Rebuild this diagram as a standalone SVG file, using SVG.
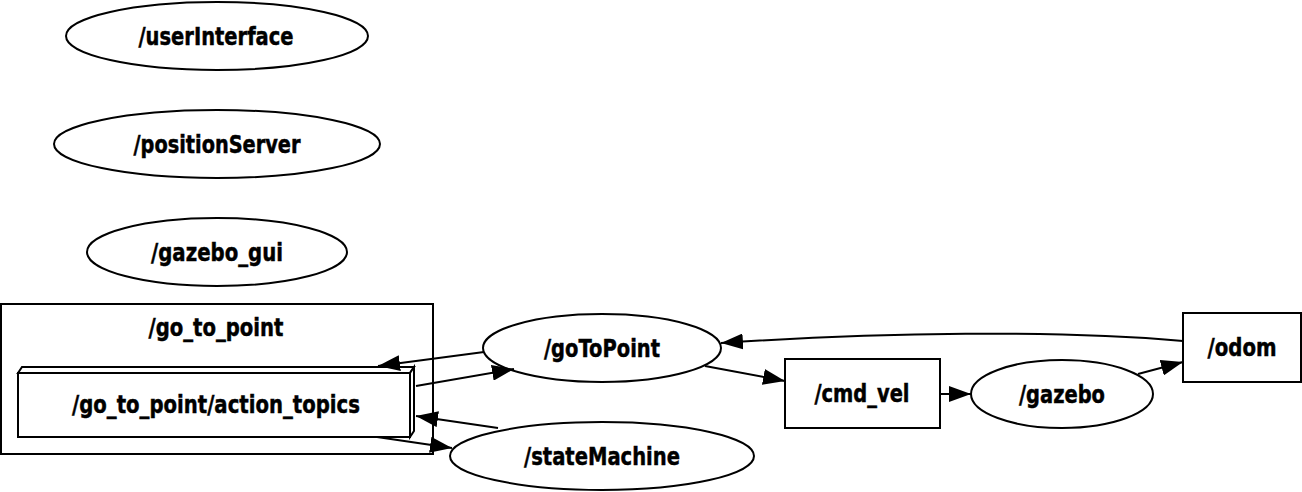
<svg xmlns="http://www.w3.org/2000/svg" width="1302" height="492" viewBox="0 0 1302 492">
<style>
.n{fill:#fff;stroke:#000;stroke-width:2}
.t{font-family:"DejaVu Sans",sans-serif;font-weight:bold;font-size:25px;text-anchor:middle;fill:#000;stroke:#000;stroke-width:0.5}
.e{fill:none;stroke:#000;stroke-width:2;marker-end:url(#ah)}
</style>
<defs>
<marker id="ah" viewBox="0 0 22 16" markerWidth="22" markerHeight="16" refX="22" refY="8" markerUnits="userSpaceOnUse" orient="auto">
<path d="M0,0 L22,8 L0,16 z" fill="#000"/>
</marker>
</defs>
<rect width="1302" height="492" fill="#fff"/>
<g id="cluster_go_to_point">
<rect class="n" x="1" y="304" width="432" height="150"/>
<text class="t" x="216" y="336" textLength="135" lengthAdjust="spacingAndGlyphs">/go_to_point</text>
</g>
<g id="userInterface">
<ellipse class="n" cx="217" cy="36" rx="151" ry="34"/>
<text class="t" x="216" y="45" textLength="155" lengthAdjust="spacingAndGlyphs">/userInterface</text>
</g>
<g id="positionServer">
<ellipse class="n" cx="217" cy="144" rx="163" ry="34"/>
<text class="t" x="217" y="153" textLength="167" lengthAdjust="spacingAndGlyphs">/positionServer</text>
</g>
<g id="gazebo_gui">
<ellipse class="n" cx="217" cy="252" rx="130" ry="34"/>
<text class="t" x="217" y="261" textLength="132" lengthAdjust="spacingAndGlyphs">/gazebo_gui</text>
</g>
<g id="action_topics">
<polygon class="n" points="18,373 22,367 414,367 410,373"/>
<polygon class="n" points="410,373 414,367 414,431 410,437"/>
<rect class="n" x="18" y="373" width="392" height="64"/>
<text class="t" x="216" y="413" textLength="288" lengthAdjust="spacingAndGlyphs">/go_to_point/action_topics</text>
</g>
<g id="goToPoint">
<ellipse class="n" cx="602" cy="348" rx="119" ry="34"/>
<text class="t" x="602" y="357" textLength="116" lengthAdjust="spacingAndGlyphs">/goToPoint</text>
</g>
<g id="stateMachine">
<ellipse class="n" cx="602" cy="456" rx="152" ry="34"/>
<text class="t" x="602" y="465" textLength="156" lengthAdjust="spacingAndGlyphs">/stateMachine</text>
</g>
<g id="cmd_vel">
<rect class="n" x="785" y="359" width="155" height="69"/>
<text class="t" x="862" y="402" textLength="95" lengthAdjust="spacingAndGlyphs">/cmd_vel</text>
</g>
<g id="gazebo">
<ellipse class="n" cx="1062" cy="394" rx="91" ry="34"/>
<text class="t" x="1062" y="403" textLength="86" lengthAdjust="spacingAndGlyphs">/gazebo</text>
</g>
<g id="odom">
<rect class="n" x="1183" y="313" width="118" height="69"/>
<text class="t" x="1242" y="356" textLength="69" lengthAdjust="spacingAndGlyphs">/odom</text>
</g>
<g id="edges">
<path class="e" d="M484,352 L378,366"/>
<path class="e" d="M416,386 L514,369"/>
<path class="e" d="M498,428 L416,416"/>
<path class="e" d="M377,437 L452,448"/>
<path class="e" d="M705,366 L785,381"/>
<path class="e" d="M940,394 L971,394"/>
<path class="e" d="M1138,374 L1183,362"/>
<path class="e" d="M1183,341 C1060,330 880,332 721,343"/>
</g>
</svg>
